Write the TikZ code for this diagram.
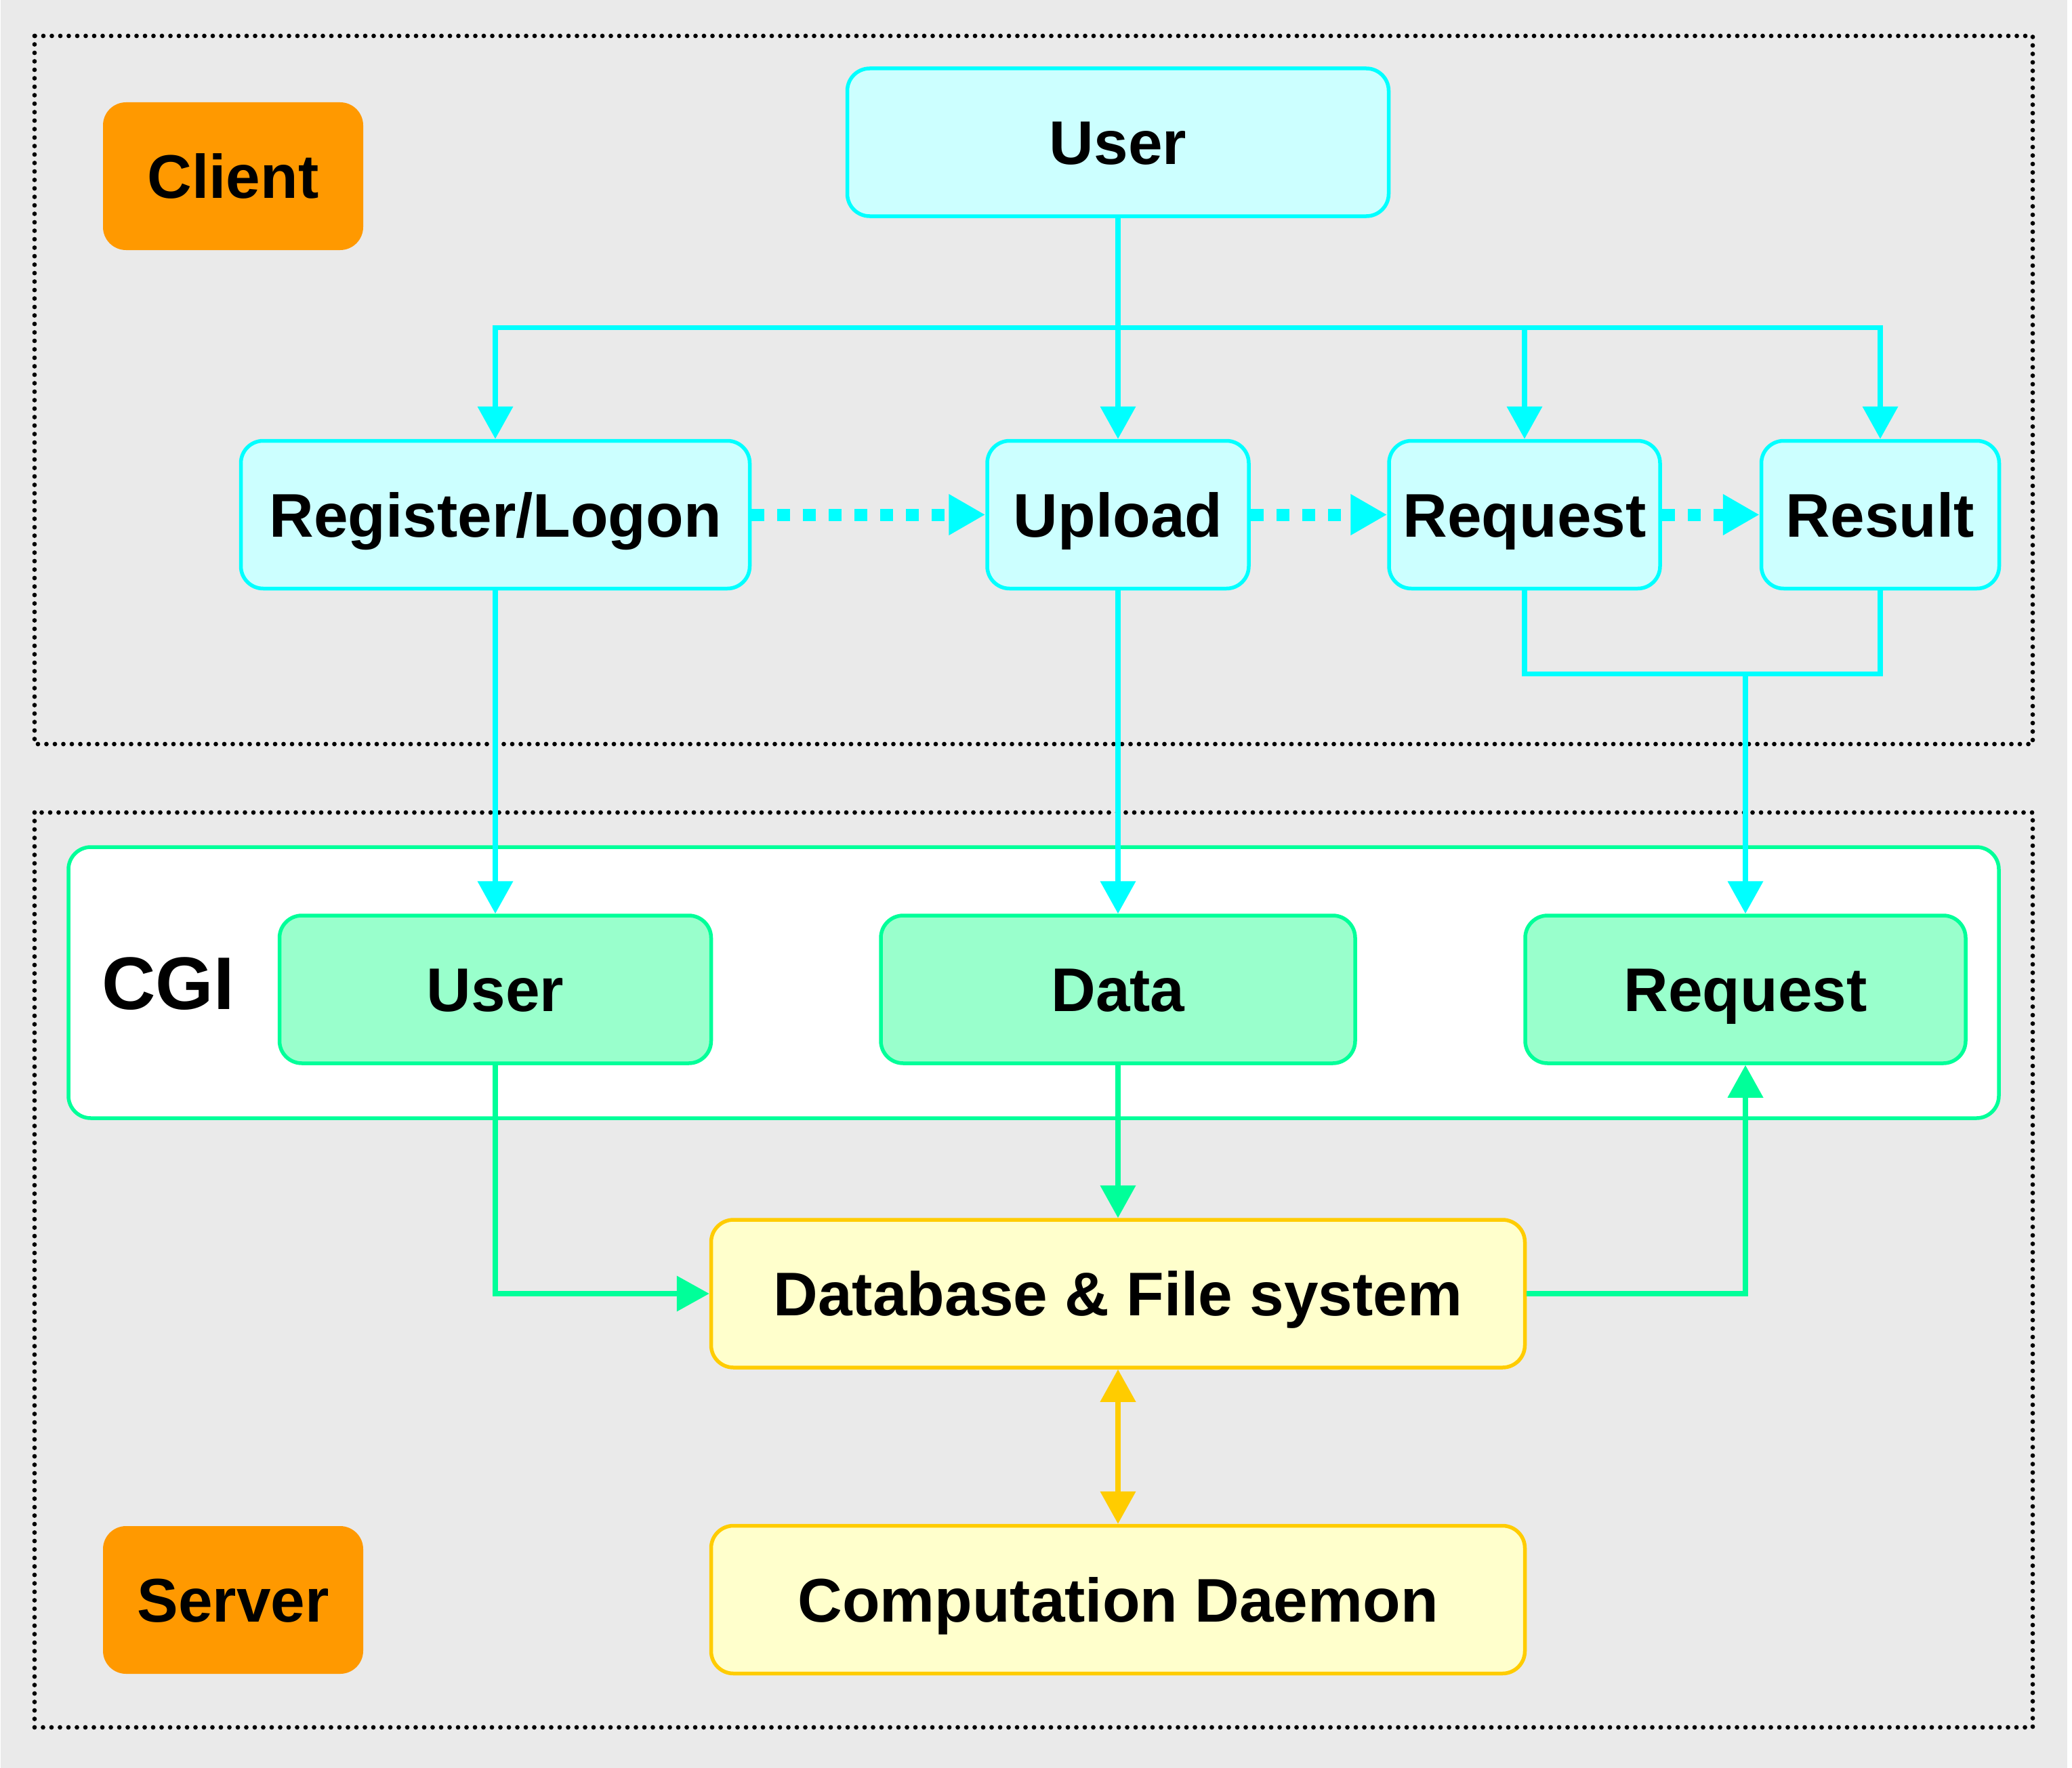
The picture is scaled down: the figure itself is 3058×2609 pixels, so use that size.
\documentclass[tikz,border=0pt]{standalone}
\usepackage{fontspec}
\setmainfont{Liberation Sans}
\usetikzlibrary{arrows.meta}
\definecolor{bgc}{HTML}{EAEAEA}
\definecolor{cline}{HTML}{00FFFF}
\definecolor{cfill}{HTML}{CCFFFF}
\definecolor{gline}{HTML}{00FF99}
\definecolor{gfill}{HTML}{99FFCC}
\definecolor{yline}{HTML}{FFCC00}
\definecolor{yfill}{HTML}{FFFFCC}
\definecolor{orng}{HTML}{FF9900}
\begin{document}
\begin{tikzpicture}[x=1pt,y=-1pt,
  box/.style={rounded corners=33pt, line width=5.5pt, minimum height=218pt, inner sep=0pt,
    font=\bfseries\fontsize{91}{100}\selectfont, text height=65pt, text depth=0pt},
  cbox/.style={box, draw=cline, fill=cfill},
  gbox/.style={box, draw=gline, fill=gfill},
  ybox/.style={box, draw=yline, fill=yfill},
  tagbox/.style={box, draw=none, fill=orng, rounded corners=34pt, minimum width=384pt},
  frame/.style={draw=black, line width=6.7pt, line cap=round, dash pattern=on 0pt off 12.5pt},
  carrow/.style={draw=cline, line width=7.5pt, -{Triangle[length=48pt,width=51pt]}},
  cline/.style={draw=cline, line width=7.5pt},
  garrow/.style={draw=gline, line width=7.5pt, -{Triangle[length=48pt,width=51pt]}},
  yarrow/.style={draw=yline, line width=7.5pt, {Triangle[length=48pt,width=51pt]}-{Triangle[length=48pt,width=51pt]}},
  dotarrow/.style={draw=cline, line width=18pt, dash pattern=on 19pt off 19pt, -{Triangle[length=54pt,width=57pt]}}
]
\fill[white] (0,0) rectangle (3058,2609);
\fill[bgc] (1,0) rectangle (3051,2609);
\useasboundingbox (0,0) rectangle (3058,2609);

% frames
\draw[frame] (51,53) rectangle (3000,1098);
\draw[frame] (51,1199) rectangle (3000,2549);

% CGI container
\node[draw=gline, fill=white, line width=5.5pt, rounded corners=33pt, minimum width=2849pt, minimum height=400pt, inner sep=0pt] (cgi) at (1525.5,1450) {};
\node[font=\bfseries\fontsize{110}{120}\selectfont, text height=79pt, text depth=0pt, inner sep=0pt] (cgilabel) at (248,1450) {CGI};

% tags
\node[tagbox] (client) at (344,260) {Client};
\node[tagbox] (server) at (344,2361) {Server};

% client boxes
\node[cbox, minimum width=799pt] (user) at (1650,210) {User};
\node[cbox, minimum width=751pt] (reg) at (731,759.5) {Register/Logon};
\node[cbox, minimum width=386pt] (upl) at (1650,759.5) {Upload};
\node[cbox, minimum width=400pt] (rq) at (2250,759.5) {Request};
\node[cbox, minimum width=351pt] (res) at (2775,759.5) {Result};

% cgi boxes
\node[gbox, minimum width=637pt] (cuser) at (731,1460) {User};
\node[gbox, minimum width=700pt] (data) at (1650,1460) {Data};
\node[gbox, minimum width=650pt] (creq) at (2576,1460) {Request};

% server boxes
\node[ybox, minimum width=1201pt] (db) at (1650,1909) {Database \& File system};
\node[ybox, minimum width=1201pt] (daemon) at (1650,2360.5) {Computation Daemon};

% top connectors
\coordinate (h) at (1650,483.6);
\draw[carrow] (user.south) -- (upl.north);
\draw[carrow] (h) -| (reg.north);
\draw[carrow] (h) -| (rq.north);
\draw[carrow] (h) -| (res.north);

% dotted arrows
\draw[dotarrow] (reg.east) -- (upl.west);
\draw[dotarrow] (upl.east) -- (rq.west);
\draw[dotarrow] (rq.east) -- (res.west);

% client to cgi
\draw[carrow] (reg.south) -- (cuser.north);
\draw[carrow] (upl.south) -- (data.north);
\coordinate (j) at (2576,994.5);
\draw[cline] (rq.south) -- (rq.south |- j) -| (res.south);
\draw[carrow] (j) -- (creq.north);

% cgi to db
\draw[garrow] (cuser.south) |- (db.west);
\draw[garrow] (data.south) -- (db.north);
\draw[garrow] (db.east) -| (creq.south);

% db to daemon
\draw[yarrow] (db.south) -- (daemon.north);
\end{tikzpicture}
\end{document}
